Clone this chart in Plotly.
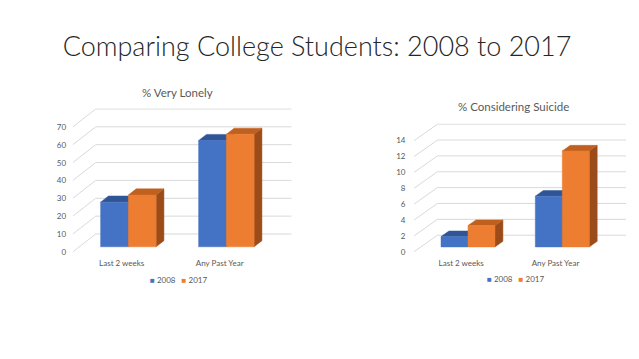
import plotly.graph_objects as go

W, H = 639, 359

# ---------------- data ----------------
categories = ["Last 2 weeks", "Any Past Year"]
years = ["2008", "2017"]
lonely_2008 = [25, 59.5]
lonely_2017 = [29, 63]
suicide_2008 = [1.3, 6.4]
suicide_2017 = [2.7, 12.1]
lonely_ticks = [0, 10, 20, 30, 40, 50, 60, 70]
suicide_ticks = [0, 2, 4, 6, 8, 10, 12, 14]

# face colours: front, top, side
blue = ("#4472C4", "#2F5597", "#2A4D8A")
orange = ("#ED7D31", "#C0601F", "#9C4C19")

TXT = "#595959"
GRID = "#D9D9D9"
FONT = "Lato"

fig = go.Figure()


def panel(xa, ya, series, ticks, spec):
    n = len(categories)
    dxu = spec["dx"] / spec["ppx"]
    dyu = spec["dy"] / spec["ppy"]
    # wall gridlines (side wall diagonal + back wall horizontal)
    gx, gy = [], []
    for t in ticks:
        gx += [-0.5, -0.5 + dxu, n - 0.5 + dxu, None]
        gy += [t, t + dyu, t + dyu, None]
    fig.add_trace(go.Scatter(x=gx, y=gy, mode="lines",
                             line=dict(color=GRID, width=1),
                             hoverinfo="skip", showlegend=False,
                             xaxis=xa, yaxis=ya))
    d1, d2 = 0.29, 0.63
    w = spec["w"]

    def P(u, v, d):
        return (u + d * dxu, v + d * dyu)

    for si, (vals, cols) in enumerate(series):
        for ci, v in enumerate(vals):
            xl = ci - w + si * w
            xr = xl + w
            side = [P(xr, 0, d1), P(xr, v, d1), P(xr, v, d2), P(xr, 0, d2)]
            top = [P(xl, v, d1), P(xr, v, d1), P(xr, v, d2), P(xl, v, d2)]
            front = [P(xl, 0, d1), P(xr, 0, d1), P(xr, v, d1), P(xl, v, d1)]
            for poly, col in ((side, cols[2]), (top, cols[1]), (front, cols[0])):
                px = [p[0] for p in poly] + [poly[0][0]]
                py = [p[1] for p in poly] + [poly[0][1]]
                fig.add_trace(go.Scatter(x=px, y=py, mode="lines", fill="toself",
                                         fillcolor=col, line=dict(color=col, width=0.5),
                                         hoverinfo="skip", showlegend=False,
                                         xaxis=xa, yaxis=ya))
    # axes
    xmin, xmax = -0.5, n - 0.5 + dxu
    span = ticks[-1] - ticks[0]
    ymin, ymax = ticks[0] - 0.006 * span, ticks[-1] + dyu + 0.006 * span
    xd = [(spec["px0"] + xmin * spec["ppx"]) / W, (spec["px0"] + xmax * spec["ppx"]) / W]
    yd = [(H - (spec["py0"] - ymin * spec["ppy"])) / H, (H - (spec["py0"] - ymax * spec["ppy"])) / H]
    xname = "xaxis" if xa == "x" else "xaxis" + xa[1:]
    yname = "yaxis" if ya == "y" else "yaxis" + ya[1:]
    fig.update_layout(**{
        xname: dict(domain=xd, range=[xmin, xmax], anchor=ya, showgrid=False, zeroline=False,
                    showline=False, tickvals=list(range(n)), ticktext=categories,
                    ticks="outside", ticklen=spec["xtl"], tickcolor="rgba(0,0,0,0)",
                    automargin=False,
                    tickfont=dict(size=8, color=TXT, family=FONT), fixedrange=True),
        yname: dict(domain=yd, range=[ymin, ymax], anchor=xa, showgrid=False, zeroline=False,
                    showline=False, tickvals=ticks, ticks="outside", ticklen=spec["ytl"],
                    tickcolor="rgba(0,0,0,0)", automargin=False,
                    tickfont=dict(size=8, color=TXT, family=FONT), fixedrange=True),
    })
    # legend (series colour keys)
    key = "&nbsp;&nbsp;&nbsp;".join(
        f"<span style='color:{c[0]}'>■</span>&nbsp;{yr}" for yr, (_, c) in zip(years, series))
    fig.add_annotation(text=key, x=spec["legx"] / W, y=1 - spec["legy"] / H,
                       xref="paper", yref="paper", showarrow=False,
                       xanchor="center", yanchor="middle",
                       font=dict(size=8, color=TXT, family=FONT))
    fig.add_annotation(text=spec["title"], x=spec["tx"] / W, y=1 - spec["ty"] / H,
                       xref="paper", yref="paper", showarrow=False,
                       xanchor="center", yanchor="middle",
                       font=dict(family=FONT, size=11.5, color=TXT))


left_spec = dict(px0=121.7, ppx=98.0, py0=252.0, ppy=1.786, dx=23.0, dy=18.0, w=0.283,
                 ytl=4, xtl=3, legx=178, legy=280, title="% Very Lonely", tx=177, ty=92)
right_spec = dict(px0=461.2, ppx=94.3, py0=251.7, ppy=7.93, dx=23.4, dy=16.5, w=0.286,
                  ytl=6, xtl=3, legx=515, legy=279, title="% Considering Suicide", tx=513, ty=106)

panel("x", "y", [(lonely_2008, blue), (lonely_2017, orange)], lonely_ticks, left_spec)
panel("x2", "y2", [(suicide_2008, blue), (suicide_2017, orange)], suicide_ticks, right_spec)

fig.update_layout(
    width=W, height=H, autosize=False,
    margin=dict(l=0, r=0, t=0, b=0),
    paper_bgcolor="white", plot_bgcolor="white",
    hovermode=False, showlegend=False,
    title=dict(text="Comparing College Students: 2008 to 2017", x=317 / W, xanchor="center",
               y=1 - 47 / H, yanchor="middle",
               font=dict(family=FONT, size=27, color="#262626", weight=300)),
)

fig.write_html("out.html", config={"displayModeBar": False},
               post_script="document.body.style.margin='0';document.body.style.overflow='hidden';")
